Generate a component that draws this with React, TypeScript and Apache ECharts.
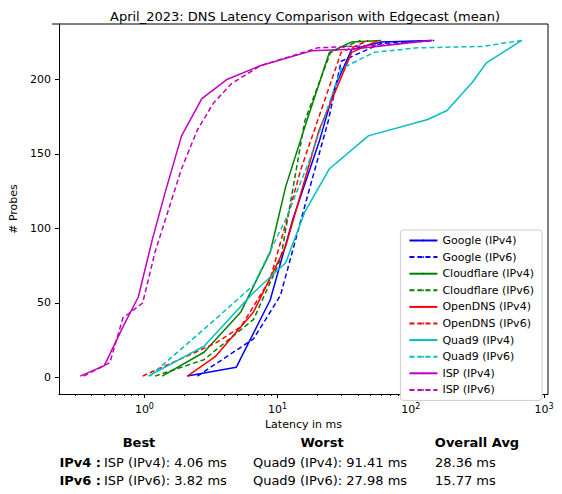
import { useEffect, useRef } from "react";
import * as echarts from "echarts";

// [latency ms, # probes]
const googleV4 = [[2.1,1],[4.9,7],[8.8,52],[13,106],[20.5,158],[27,195],[36,220],[60,225],[145,226]];
const googleV6 = [[2.5,1],[6.6,26],[10.5,55],[16,115],[24,172],[30,212],[60,224],[150,226]];
const cloudV4 = [[1.36,1],[2.8,17],[5.3,44],[8.8,84],[11.5,128],[16,168],[24.5,218],[36,225],[60,226]];
const cloudV6 = [[1.2,1],[2.8,12],[6.6,39],[10.5,79],[16,172],[25,218],[42,226]];
const openV4 = [[2.1,1],[3.4,14],[6.6,44],[11.5,88],[20.5,166],[36,218],[57,226]];
const openV6 = [[0.97,1],[3.4,23],[5.3,34],[8.8,66],[15,140],[30,218],[48,226]];
const quadV4 = [[1.07,1],[2.8,21],[6.6,57],[11.5,77],[16,111],[24.5,140],[48,162],[134,173],[187,179],[290,198],[370,211],[680,226]];
const quadV6 = [[1.1,1],[3.4,39],[6.6,62],[11.5,106],[17.4,146],[30,207],[53,218],[112,221],[350,222],[680,226]];
const ispV4 = [[0.33,1],[0.5,8],[0.69,34],[0.9,54],[1.15,93],[1.43,124],[1.9,162],[2.7,187],[4.2,200],[7.4,209],[18,219],[36,220],[140,226]];
const ispV6 = [[0.35,1],[0.55,10],[0.69,40],[0.97,50],[1.2,84],[1.9,140],[2.5,166],[3.3,184],[4.5,197],[7.4,209],[20,221],[63,223],[150,226]];

const seriesDefs = [
  { name: "Google (IPv4)", color: "#0000ff", dash: false, data: googleV4 },
  { name: "Google (IPv6)", color: "#0000ff", dash: true, data: googleV6 },
  { name: "Cloudflare (IPv4)", color: "#008000", dash: false, data: cloudV4 },
  { name: "Cloudflare (IPv6)", color: "#008000", dash: true, data: cloudV6 },
  { name: "OpenDNS (IPv4)", color: "#ff0000", dash: false, data: openV4 },
  { name: "OpenDNS (IPv6)", color: "#ff0000", dash: true, data: openV6 },
  { name: "Quad9 (IPv4)", color: "#00bfbf", dash: false, data: quadV4 },
  { name: "Quad9 (IPv6)", color: "#00bfbf", dash: true, data: quadV6 },
  { name: "ISP (IPv4)", color: "#bf00bf", dash: false, data: ispV4 },
  { name: "ISP (IPv6)", color: "#bf00bf", dash: true, data: ispV6 },
];

const majorTicks = [0, 1, 2, 3];
const minorTicks: number[] = [];
for (let d = -1; d < 3; d++) for (let m = 2; m < 10; m++) minorTicks.push(d + Math.log10(m));
const yTicks = [0, 50, 100, 150, 200];

const FONT = "DejaVu Sans";

export default function App() {
  const ref = useRef<HTMLDivElement>(null);

  useEffect(() => {
    if (!ref.current) return;
    const chart = echarts.init(ref.current, null, { renderer: "svg" });
    const xMin = -0.642, xMax = 3.03;
    const txt = (x: number, y: number, text: string, align: string, bold = false) => ({
      type: "text", x, y,
      style: { text, fontFamily: FONT, fontSize: 13, fontWeight: bold ? "bold" : "normal", fill: "#000", align, verticalAlign: "middle" },
    });
    chart.setOption({
      animation: false,
      backgroundColor: "#fff",
      textStyle: { fontFamily: FONT },
      title: {
        text: "April_2023: DNS Latency Comparison with Edgecast (mean)",
        left: 300, top: 5, textAlign: "center",
        textStyle: { fontFamily: FONT, fontSize: 13, fontWeight: "normal", color: "#000" },
      },
      grid: { left: 52, right: 14, top: 24, bottom: 100 },
      legend: {
        orient: "vertical", right: 20, top: 230,
        itemWidth: 28, itemHeight: 2, itemGap: 5.6,
        backgroundColor: "#fff", borderColor: "#ccc", borderWidth: 1, borderRadius: 3,
        padding: [5, 8],
        textStyle: { fontFamily: FONT, fontSize: 11, color: "#000" },
        data: seriesDefs.map((s) => s.name),
      },
      xAxis: [
        {
          type: "value", min: xMin, max: xMax,
          name: "Latency in ms", nameLocation: "middle", nameGap: 24,
          nameTextStyle: { fontFamily: FONT, fontSize: 11, color: "#000" },
          axisLine: { onZero: false, lineStyle: { color: "#000" } },
          axisTick: { customValues: majorTicks, length: 4, lineStyle: { color: "#000" } },
          axisLabel: {
            customValues: majorTicks, color: "#000", fontSize: 11, fontFamily: FONT,
            formatter: (v: number) => `10{s|${v}}`,
            rich: { s: { fontSize: 8, verticalAlign: "top", padding: [0, 0, 6, 0], fontFamily: FONT } },
          },
          splitLine: { show: false },
        },
        {
          type: "value", min: xMin, max: xMax, position: "bottom", offset: 0,
          axisLine: { show: false, onZero: false },
          axisTick: { customValues: minorTicks, length: 2, lineStyle: { color: "#000" } },
          axisLabel: { show: false },
          splitLine: { show: false },
        },
      ],
      yAxis: {
        type: "value", min: -11, max: 237,
        name: "# Probes", nameLocation: "middle", nameGap: 36,
        nameTextStyle: { fontFamily: FONT, fontSize: 11, color: "#000" },
        axisLine: { show: true, onZero: false, lineStyle: { color: "#000" } },
        axisTick: { show: true, customValues: yTicks, length: 4, lineStyle: { color: "#000" } },
        axisLabel: { customValues: yTicks, color: "#000", fontSize: 11, fontFamily: FONT },
        splitLine: { show: false },
      },
      graphic: [
        { type: "line", shape: { x1: 548, y1: 24, x2: 548, y2: 394 }, style: { stroke: "#000", lineWidth: 1 } },
        { type: "line", shape: { x1: 52, y1: 24, x2: 548, y2: 24 }, style: { stroke: "#000", lineWidth: 1 } },
        txt(139, 442, "Best", "center", true),
        txt(322, 442, "Worst", "center", true),
        txt(477, 442, "Overall Avg", "center", true),
        txt(101, 462, "IPv4 :", "right", true),
        txt(104, 462, "ISP (IPv4): 4.06 ms", "left"),
        txt(330, 462, "Quad9 (IPv4): 91.41 ms", "center"),
        txt(435, 462, "28.36 ms", "left"),
        txt(101, 480, "IPv6 :", "right", true),
        txt(104, 480, "ISP (IPv6): 3.82 ms", "left"),
        txt(330, 480, "Quad9 (IPv6): 27.98 ms", "center"),
        txt(435, 480, "15.77 ms", "left"),
      ],
      series: seriesDefs.map((s) => ({
        name: s.name,
        type: "line",
        xAxisIndex: 0,
        symbol: "none",
        color: s.color,
        lineStyle: { width: 1.5, color: s.color, type: s.dash ? [5, 3] : "solid" },
        data: s.data.map(([x, y]) => [Math.log10(x), y]),
      })),
    });
    return () => chart.dispose();
  }, []);

  return <div ref={ref} style={{ width: 562, height: 494, margin: "-8px 0 0 -8px" }} />;
}
